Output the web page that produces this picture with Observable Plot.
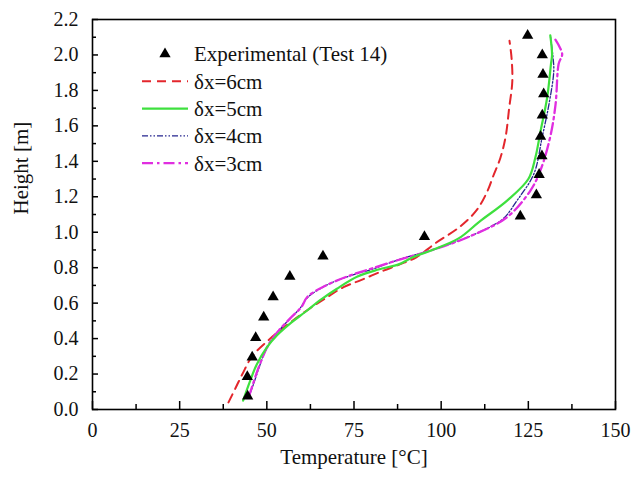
<!DOCTYPE html>
<html>
<head>
<meta charset="utf-8">
<script src="https://cdn.jsdelivr.net/npm/d3@7"></script>
<script src="https://cdn.jsdelivr.net/npm/@observablehq/plot@0.6"></script>
<style>
  html, body { margin: 0; padding: 0; background: #fff; }
  #chart { position: relative; width: 633px; height: 477px; }
  #chart svg, #chart svg text { font-family: "Liberation Serif", "Times New Roman", "DejaVu Serif", serif !important; }
</style>
</head>
<body>
<div id="chart"></div>
<script>
// Experimental (Test 14)
const expT = [44.5, 44.4, 45.8, 46.8, 49.1, 51.8, 56.6, 66.1, 95.2, 122.7, 127.3, 128.1, 128.9, 128.5, 129.0, 129.4, 129.2, 129.0, 124.8];
const expH = [0.075, 0.185, 0.295, 0.405, 0.52, 0.635, 0.75, 0.865, 0.975, 1.09, 1.21, 1.325, 1.43, 1.54, 1.66, 1.78, 1.89, 2.0, 2.11];

// δx = 6cm
const dx6T = [39.0, 41.0, 43.0, 45.8, 51.0, 56.0, 61.6, 67.0, 72.0, 77.0, 83.0, 88.3, 93.0, 98.5, 105.3, 110.0, 113.0, 115.0, 117.0, 118.5, 119.5, 120.4, 120.2, 119.6];
const dx6H = [0.04, 0.12, 0.2, 0.3, 0.4, 0.48, 0.56, 0.63, 0.69, 0.73, 0.78, 0.82, 0.86, 0.94, 1.03, 1.12, 1.22, 1.32, 1.42, 1.54, 1.7, 1.85, 1.98, 2.08];

// δx = 5cm
const dx5T = [43.2, 45.0, 47.0, 50.0, 53.0, 57.0, 61.0, 65.5, 70.0, 76.0, 82.0, 88.0, 92.0, 97.5, 105.0, 111.0, 119.0, 125.0, 127.0, 128.5, 130.4, 131.5, 131.8, 131.3];
const dx5H = [0.05, 0.15, 0.25, 0.35, 0.42, 0.49, 0.55, 0.62, 0.68, 0.75, 0.79, 0.82, 0.86, 0.9, 0.965, 1.06, 1.18, 1.3, 1.42, 1.57, 1.76, 1.95, 2.0, 2.11];

// δx = 4cm
const dx4T = [44.8, 46.3, 48.0, 49.6, 52.5, 56.0, 59.5, 61.6, 67.0, 74.0, 80.0, 88.5, 97.5, 108.0, 114.0, 118.0, 121.8, 126.6, 129.0, 130.9, 132.3, 132.0, 131.3];
const dx4H = [0.07, 0.15, 0.25, 0.33, 0.42, 0.5, 0.57, 0.63, 0.7, 0.755, 0.79, 0.85, 0.9, 0.975, 1.03, 1.08, 1.18, 1.33, 1.54, 1.72, 1.91, 2.0, 2.11];

// δx = 3cm
const dx3T = [44.8, 45.8, 47.7, 50.6, 53.4, 57.0, 60.0, 61.6, 67.0, 74.0, 80.0, 88.8, 97.5, 108.0, 118.9, 125.6, 128.5, 131.3, 132.8, 133.7, 134.7, 132.3];
const dx3H = [0.07, 0.13, 0.24, 0.37, 0.445, 0.52, 0.58, 0.635, 0.7, 0.757, 0.795, 0.85, 0.9, 0.975, 1.085, 1.235, 1.35, 1.54, 1.72, 1.95, 2.006, 2.10];

const xTicks = [0, 25, 50, 75, 100, 125, 150];
const xMinor = [12.5, 37.5, 62.5, 87.5, 112.5, 137.5];
const yTicks = [0.0, 0.2, 0.4, 0.6, 0.8, 1.0, 1.2, 1.4, 1.6, 1.8, 2.0, 2.2];
const yMinor = [0.1, 0.3, 0.5, 0.7, 0.9, 1.1, 1.3, 1.5, 1.7, 1.9, 2.1];

const seriesNames = ["Experimental (Test 14)", "δx=6cm", "δx=5cm", "δx=4cm", "δx=3cm"];
const xLabel = "Temperature [°C]";
const yLabel = "Height [m]";

const pts = (T, H) => T.map((t, i) => ({t, h: H[i]}));
const exp = pts(expT, expH);
const s6 = pts(dx6T, dx6H);
const s5 = pts(dx5T, dx5H);
const s4 = pts(dx4T, dx4H);
const s3 = pts(dx3T, dx3H);

const FONT = "'Liberation Serif', 'Times New Roman', 'DejaVu Serif', serif";
const FS_TICK = 20, FS_LAB = 21;

const styles = [
  {stroke: "#e3262c", strokeWidth: 2, strokeDasharray: "9,6"},
  {stroke: "#3ee03e", strokeWidth: 2.2, strokeDasharray: null},
  {stroke: "#24248f", strokeWidth: 1.3, strokeDasharray: "6,2,1.5,2,1.5,2"},
  {stroke: "#e02ee0", strokeWidth: 2.3, strokeDasharray: "11,4,2.5,4"}
];

const lineMark = (data, st) => Plot.line(data, {
  x: "t", y: "h", curve: "catmull-rom",
  stroke: st.stroke, strokeWidth: st.strokeWidth,
  strokeDasharray: st.strokeDasharray
});

const W = 633, H = 477, ML = 92, MR = 18, MT = 19, MB = 68;
const innerW = W - ML - MR, innerH = H - MT - MB;

const chart = Plot.plot({
  width: W,
  height: H,
  marginLeft: ML,
  marginRight: MR,
  marginTop: MT,
  marginBottom: MB,
  style: {fontFamily: FONT, background: "#fff", color: "#111"},
  x: {domain: [0, 150], label: null},
  y: {domain: [0, 2.2], label: null},
  marks: [
    lineMark(s6, styles[0]),
    lineMark(s4, styles[2]),
    lineMark(s3, styles[3]),
    lineMark(s5, styles[1]),
    Plot.dot(exp, {x: "t", y: "h", symbol: "triangle", r: 4.2, fill: "#000", stroke: "none"}),
    // inward ticks (bottom and left)
    Plot.tickX(xTicks, {x: d => d, insetTop: innerH - 8, stroke: "#000", strokeWidth: 1.5}),
    Plot.tickX(xMinor, {x: d => d, insetTop: innerH - 5, stroke: "#000", strokeWidth: 1.5}),
    Plot.tickY(yTicks, {y: d => d, insetRight: innerW - 6, stroke: "#000", strokeWidth: 1.5}),
    Plot.tickY(yMinor, {y: d => d, insetRight: innerW - 4, stroke: "#000", strokeWidth: 1.5}),
    // tick labels
    Plot.axisX(xTicks, {tickSize: 0, tickPadding: 13, tickFormat: d => String(d), fontSize: FS_TICK, fill: "#111", label: null}),
    Plot.axisY(yTicks, {tickSize: 0, tickPadding: 14, tickFormat: d => d.toFixed(1), fontSize: FS_TICK, fill: "#111", label: null}),
    Plot.frame({stroke: "#000", strokeWidth: 1.6}),
    Plot.text([xLabel], {text: d => d, frameAnchor: "bottom", dy: 54, fontSize: FS_LAB, fill: "#111"}),
    Plot.text([yLabel], {text: d => d, frameAnchor: "left", rotate: -90, dx: -71, fontSize: FS_LAB, fill: "#111"})
  ]
});

document.getElementById("chart").appendChild(chart);

// Legend (inside plot area, top-left)
const svg = d3.select(chart);
const lg = svg.append("g")
  .attr("font-family", FONT).attr("font-size", FS_LAB).attr("fill", "#111")
  .attr("text-anchor", "start");
const lx0 = 142, lx1 = 188, tx = 194, rowY0 = 54, rowH = 27.3;
lg.append("path")
  .attr("d", d3.symbol(d3.symbolTriangle, 4.2 * 4.2 * Math.PI)())
  .attr("transform", `translate(${(lx0 + lx1) / 2},${rowY0})`)
  .attr("fill", "#000");
lg.append("text").attr("x", tx).attr("y", rowY0).attr("dy", "0.35em").text(seriesNames[0]);
styles.forEach((st, i) => {
  const y = rowY0 + rowH * (i + 1);
  lg.append("line")
    .attr("x1", lx0).attr("x2", lx1).attr("y1", y).attr("y2", y)
    .attr("stroke", st.stroke).attr("stroke-width", st.strokeWidth)
    .attr("stroke-dasharray", st.strokeDasharray);
  lg.append("text").attr("x", tx).attr("y", y).attr("dy", "0.35em").text(seriesNames[i + 1]);
});
</script>
</body>
</html>
